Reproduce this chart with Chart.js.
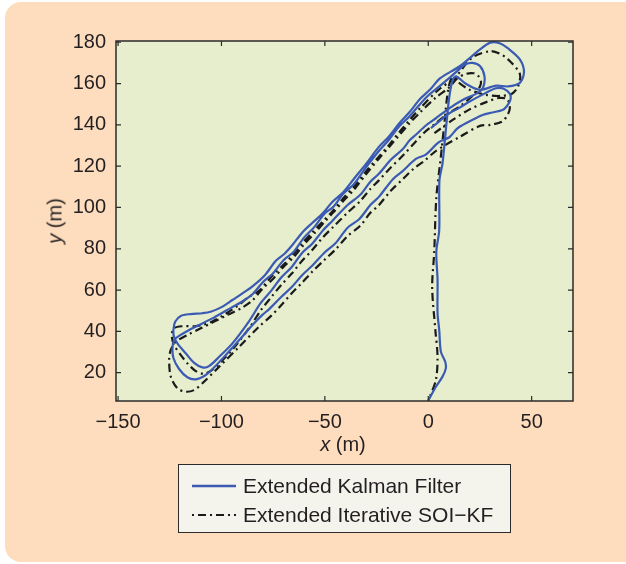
<!DOCTYPE html>
<html><head><meta charset="utf-8">
<script src="https://cdn.jsdelivr.net/npm/chart.js@4.4.0/dist/chart.umd.min.js"></script>
<style>
html,body{margin:0;padding:0;background:#fff;width:626px;height:564px;overflow:hidden;}
#bg{position:absolute;left:5px;top:2px;width:660px;height:560px;background:rgb(253,221,190);border-radius:16px;}
#c{position:absolute;left:0;top:0;}
.lbl{position:absolute;font-family:"Liberation Sans",Arial,sans-serif;font-size:20px;color:#231f20;white-space:nowrap;}
#xl{left:343px;top:444px;transform:translate(-50%,-50%);}
#yl{left:55px;top:221px;transform:translate(-50%,-50%) rotate(-90deg);}
#leg{position:absolute;left:178px;top:464px;width:331px;height:67px;border:1px solid #2b2b2b;background:rgb(244,243,236);font-family:"Liberation Sans",Arial,sans-serif;font-size:21px;color:#231f20;}
#leg .row{position:absolute;left:0;height:24px;}
#leg svg{position:absolute;left:12px;top:0;}
#leg span{position:absolute;left:64px;top:0;line-height:24px;white-space:nowrap;}
</style></head>
<body>
<div id="bg"></div>
<canvas id="c" width="626" height="564"></canvas>
<div class="lbl" id="xl"><i>x</i> (m)</div>
<div class="lbl" id="yl"><i>y</i> (m)</div>
<div id="leg">
  <div class="row" style="top:9px"><svg width="46" height="24"><line x1="1" y1="12" x2="45" y2="12" stroke="rgb(58,90,180)" stroke-width="2.5"/></svg><span>Extended Kalman Filter</span></div>
  <div class="row" style="top:38px"><svg width="46" height="24"><line x1="1" y1="12" x2="45" y2="12" stroke="#1a1a1a" stroke-width="2.2" stroke-dasharray="2,4,8,4"/></svg><span>Extended Iterative SOI&#8722;KF</span></div>
</div>
<script>
// ---- data (metres) ----
const xTicks = [-150, -100, -50, 0, 50];
const yTicks = [20, 40, 60, 80, 100, 120, 140, 160, 180];
const xRange = [-151, 70];
const yRange = [6.3, 180.6];

// Extended Kalman Filter trajectory
const ekfPath = [
 [1.3,138.4],[6,142.3],[10.2,145.6],[15,148.2],[19.8,151.2],[27,155],[32.7,157.7],[36.5,157.5],[39.5,155],[39.7,152],[38,149],[35.9,147.2],[31,146],[26.3,144.8],
 [18.2,140.8],[14,138.2],[10.2,134.0],[5,131.5],[-1.2,125.6],[-6,123.5],[-12.4,117.6],[-17,113.8],[-24,105.0],[-28,101.2],[-33.4,94.3],[-39,90.2],
 [-45,82.5],[-50,78.3],[-56,71.9],[-61,67.2],[-66,61.5],[-71,56.8],[-76.9,50.8],[-80.2,48],
 [-85,43.1],[-91.4,35.8],[-97.9,28.6],[-103.5,22.6],[-107.6,18.9],[-112.4,16.8],[-116.5,17.8],[-120.5,21.8],[-123.2,27],[-123.7,31.8],[-122.9,35.8],
 [-120.5,37.8],[-115.6,40.7],[-110.8,43.1],[-104.4,46.3],[-97.9,50],[-91.4,53.6],[-85,58],[-80,63.8],[-75,68.2],[-70,74.5],[-65,78.6],[-60,85.5],
 [-55,90.6],[-50,97.2],[-46,100.2],[-41,106.8],[-36,111.2],[-30,119.5],[-24,127.2],[-19,132.8],[-14,139.3],[-9,144.2],[-4,150],[0,154.2],[4,157.5],
 [10,162.5],[14.5,166.5],[18,169.3],[21.4,170],[25,168.5],[27.2,163.5],[26.5,158],[24,155.5],
 [16.6,152],[10.2,148],[3.7,143.2],[-1,139.8],[-6,135.2],[-9,132.5],[-12.4,128.2],[-18,123.2],[-24,116.2],[-28,112.5],[-33,106],[-39,101.2],
 [-46.3,93.6],[-51,88.8],[-56,82.6],[-61,78],[-66,71.2],[-71,66.2],[-76,59.6],[-81,53.8],[-86.6,45],
 [-94.7,34.2],[-101.1,27.7],[-106,23.2],[-109.2,22.6],[-113.2,24.8],[-117.3,29.4],[-121.3,34.2],[-123,37.5],[-123.2,41],[-122.4,44.7],
 [-119.7,47.5],[-114.9,48.4],[-109.2,48.8],[-105.2,49.5],[-99.5,52],[-94.7,55.2],[-89,59],
 [-85,61.8],[-79,67.2],[-73.7,74.2],[-69.5,77.6],[-65.7,81.8],[-61,87.8],[-56,92.6],[-51,97.2],[-46.3,102.8],[-41,107.5],[-36,113.8],[-30,121.2],
 [-24,129.2],[-19,134.4],[-14,140.8],[-9,146.2],[-3.9,152.6],[1,157.2],[5.8,162.6],
 [15.4,168.5],[25,176.5],[30,179.8],[34.5,179.5],[38.6,177],[44.3,171.7],[46.3,165.6],[44.3,160.3],[38.6,158.6],[32.8,159],[25,157],
 [18,160],[13.5,163.5],[11.8,161.7],[10.2,153.7],[8.5,137.5],[6.9,121.4],[5.4,113],[5.3,89],[3.9,78.6],[4.5,65],[4.5,48.8],[5.3,40.7],
 [6.1,30.2],[8.2,25.3],[8.5,22.1],[6.9,18.1],[3.7,13.2],[0,6.5]
];

// Extended Iterative SOI-KF trajectory
const soiPath = [
 [3,136],[12,142.5],[20,147.5],[28,151],[34,153],[38,152.5],[39.5,149],[38.5,145],[35.5,141.5],[30,140],[25,139.5],[15.4,134.3],[7.7,129.9],
 [3,126.8],[-2,122.5],[-7,118.8],[-12,114],[-18,108.2],[-24,101],[-28,97.4],[-33,91],[-39,86.2],[-45,79.5],[-50,74.8],[-56,69],[-61,63.6],[-66,58.5],
 [-71,52.8],[-76,47.5],[-81.8,42.3],[-91.4,32.6],[-101.1,22.9],[-109.2,14.9],
 [-113.2,11.6],[-117.3,10.8],[-121.3,12.4],[-124.5,18.1],[-125.3,26.2],[-124.5,31],
 [-122,35],[-116,38.5],[-110,41.5],[-104,44.5],[-97,48],[-90,51.5],[-85,55],[-80,60.8],[-75,65.5],[-70,71.2],[-65,76],[-60,82.2],[-55,87.5],
 [-50,93.2],[-46,97.5],[-41,103.2],[-36,108.5],[-30,116.2],[-24,123.5],[-19,129.2],[-14,135],[-9,140.8],[-4,146],[4,153.5],[10,158],[14,162.5],
 [18.3,164.7],[22,165],[24.1,163.8],[25.5,161],[25,158.6],[23,155.5],
 [16,149.5],[9,145],[2,139.5],[-2,136.2],[-6,132],[-12.4,125],[-18,119.5],[-24,113],[-28,109],[-33,103],[-39,97.5],[-46,90.5],[-51,85.5],[-56,79.5],
 [-61,74.2],[-66,68],[-71,62.6],[-76,56.5],[-81,50.2],[-86,42.5],[-94,32],
 [-100,25.5],[-105,21],[-108.5,19.5],[-112,20.5],[-116,24],[-120,29],[-123,33.5],[-124,38],[-123,41.5],[-119,42.5],[-113,42.5],[-109.2,43.1],
 [-104,45],[-98,48.5],[-92,52.5],[-87,56.5],
 [-82,59.5],[-75,67.5],[-70,72.2],[-66,76.5],[-61,82.6],[-56,88],[-51,93.2],[-46,98.5],[-41,104.6],[-36,110],[-30,117.6],[-24,124.5],[-19,130.2],
 [-14,136.5],[-9,142.4],[-4,148],[5,157],[13,163],[21.2,172.5],[29.9,175.7],
 [34.5,174.5],[38.6,171.7],[44.3,164.7],[43.4,158.6],[40.5,155.1],[35,154],[28,154.5],[20,157],[14,161],[11.6,163],
 [9.6,156.9],[7.7,139.5],[5.8,122],[3.9,104.7],[2.9,78.6],[1.9,61.2],[3.5,40],[4.5,27.7],[3.7,16.5],[0.5,7.7]
];

const toXY = a => a.map(p => ({x: p[0], y: p[1]}));
const FONT = '"Liberation Sans", Arial, sans-serif';
const INK = '#231f20';

const frame = {
  id: 'frame',
  beforeDatasetsDraw(chart) {
    const a = chart.chartArea, ctx = chart.ctx;
    ctx.save(); ctx.fillStyle = 'rgb(230,238,205)';
    ctx.fillRect(a.left, a.top, a.right - a.left, a.bottom - a.top); ctx.restore();
  },
  afterDatasetsDraw(chart) {
    const a = chart.chartArea, ctx = chart.ctx, sx = chart.scales.x, sy = chart.scales.y;
    ctx.save(); ctx.strokeStyle = '#2b2b2b'; ctx.lineWidth = 1.5;
    ctx.strokeRect(a.left, a.top, a.right - a.left, a.bottom - a.top);
    ctx.lineWidth = 1.2; ctx.beginPath();
    const L = 5;
    xTicks.forEach(v => { const p = sx.getPixelForValue(v);
      ctx.moveTo(p, a.bottom); ctx.lineTo(p, a.bottom - L); ctx.moveTo(p, a.top); ctx.lineTo(p, a.top + L); });
    yTicks.forEach(v => { const p = sy.getPixelForValue(v);
      ctx.moveTo(a.left, p); ctx.lineTo(a.left + L, p); ctx.moveTo(a.right, p); ctx.lineTo(a.right - L, p); });
    ctx.stroke(); ctx.restore();
  }
};

new Chart(document.getElementById('c'), {
  type: 'line',
  data: { datasets: [
    { label: 'Extended Kalman Filter', data: toXY(ekfPath), borderColor: 'rgb(58,90,180)', borderWidth: 2.2,
      pointRadius: 0, tension: 0.3, fill: false },
    { label: 'Extended Iterative SOI\u2212KF', data: toXY(soiPath), borderColor: '#1a1a1a', borderWidth: 2.2,
      borderDash: [8, 4, 2, 4], pointRadius: 0, tension: 0.3, fill: false }
  ]},
  options: {
    responsive: false, animation: false, devicePixelRatio: 1,
    layout: { padding: { left: 0, top: 41, right: 53, bottom: 133 } },
    plugins: { legend: { display: false }, tooltip: { enabled: false } },
    scales: {
      x: { type: 'linear', min: xRange[0], max: xRange[1],
        afterBuildTicks: s => { s.ticks = xTicks.map(v => ({value: v})); },
        afterFit: s => { s.height = 30; },
        grid: { display: false, drawTicks: false }, border: { display: false },
        ticks: { padding: 9, color: INK, font: { family: FONT, size: 20 },
          callback: v => v < 0 ? '\u2212' + Math.abs(v) : String(v) } },
      y: { type: 'linear', min: yRange[0], max: yRange[1],
        afterBuildTicks: s => { s.ticks = yTicks.map(v => ({value: v})); },
        afterFit: s => { s.width = 116; },
        grid: { display: false, drawTicks: false }, border: { display: false },
        ticks: { padding: 10, color: INK, font: { family: FONT, size: 20 } } }
    }
  },
  plugins: [frame]
});
</script>
</body></html>
